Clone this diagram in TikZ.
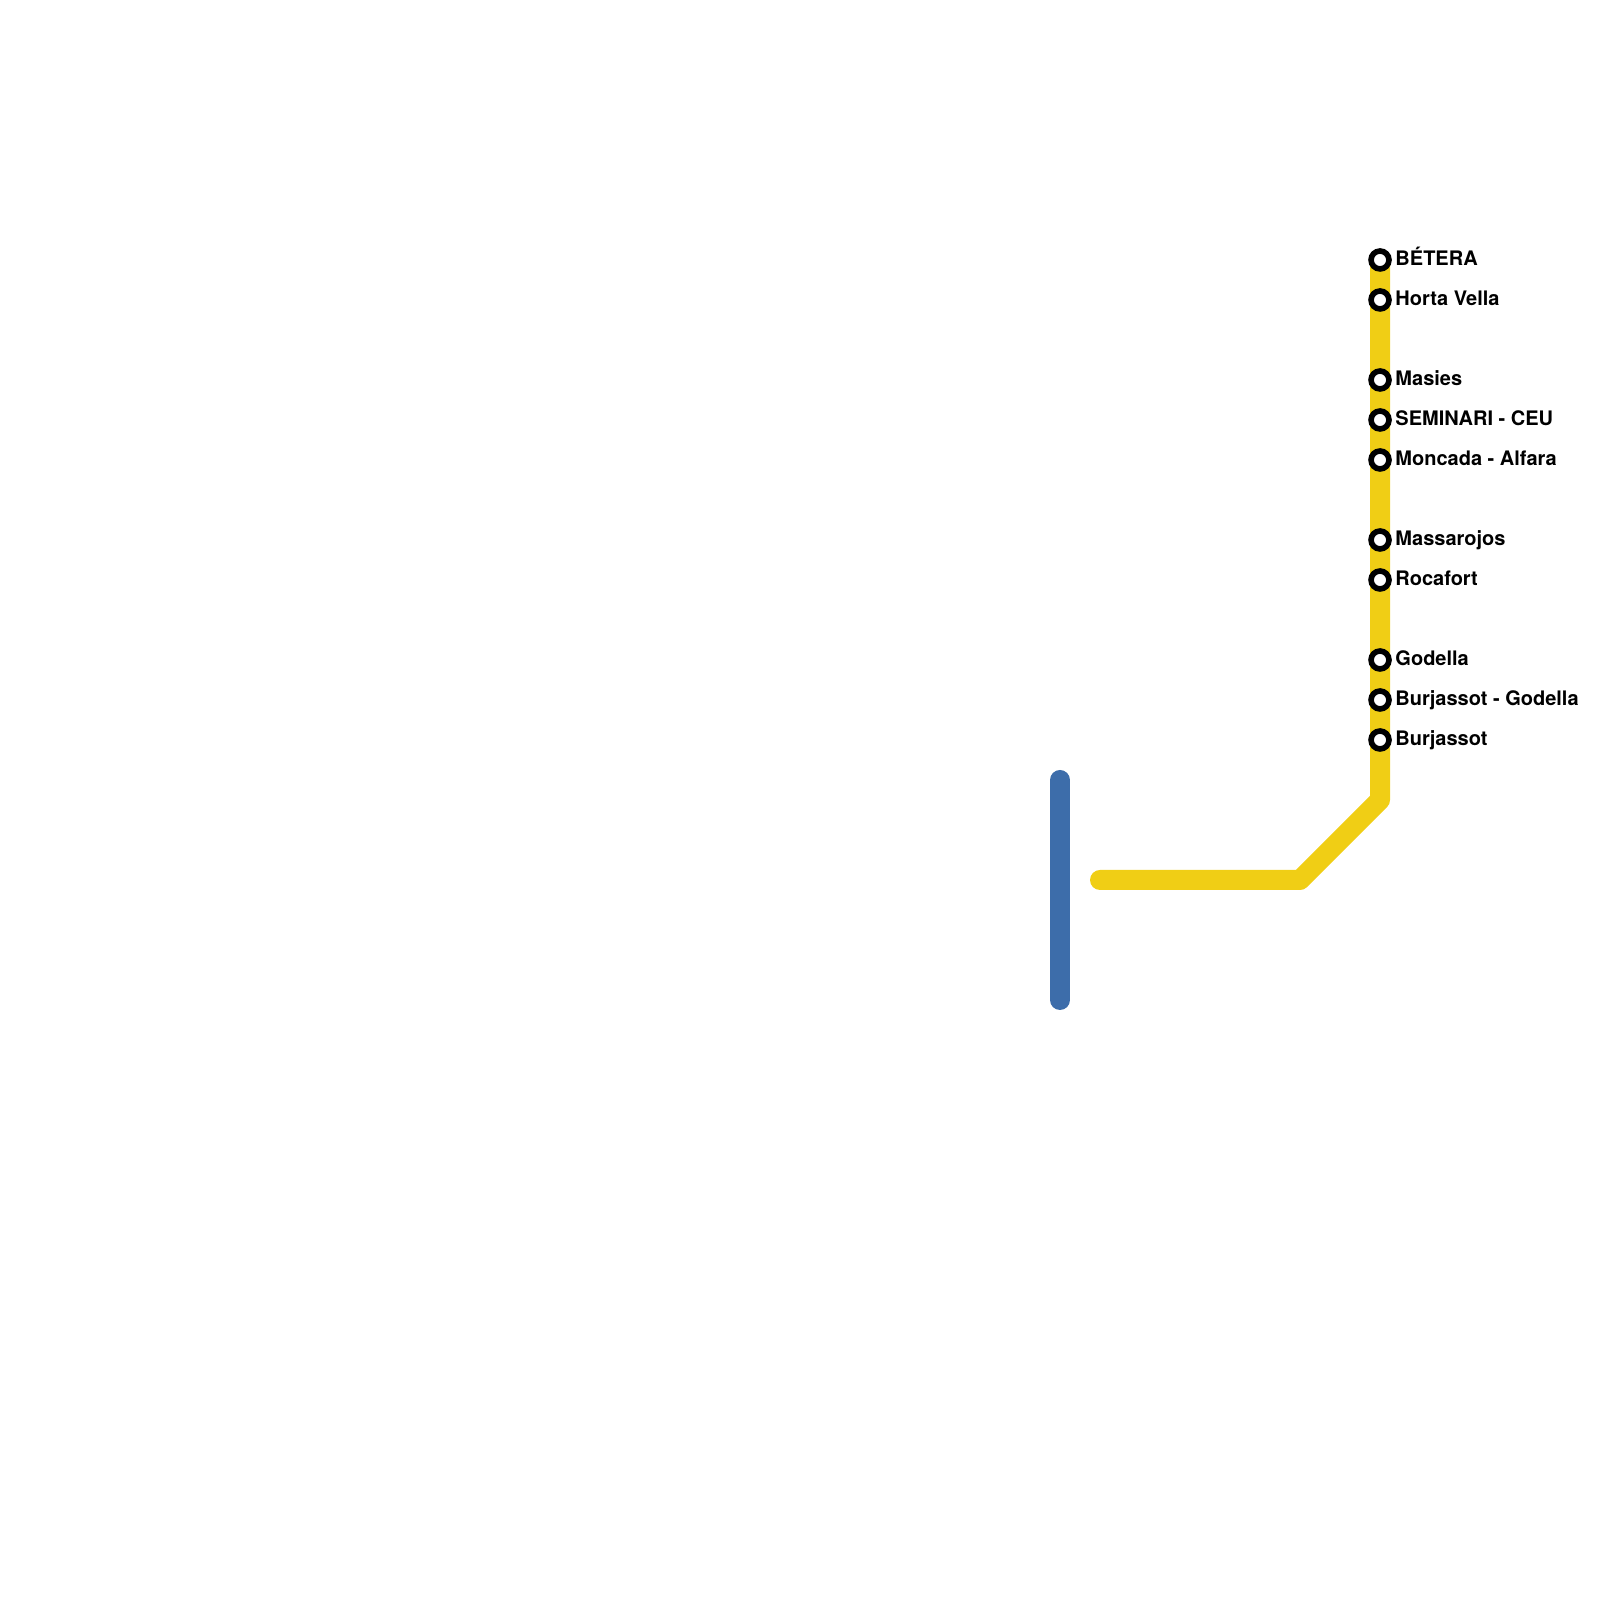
\documentclass[tikz,border=0pt]{standalone}
\usepackage{fontspec}
\setmainfont{TeX Gyre Heros}
\usepackage[svgnames]{xcolor}
\definecolor{linegold}{HTML}{F0CE15}
\definecolor{lineblue}{HTML}{3D6DAA}

\begin{document}
\begin{tikzpicture}
		\tikzset{
			label distance = 0.85pt,
			route/.style = {line width = 5.69pt,line cap = round,line join = round},
			station/.style = {circle,draw = black,fill = white,line width = 1.6pt,minimum size = 5.1pt,inner sep = 0pt},
			every label/.style = {inner sep = 0pt,text height = 4.5pt,text depth = 1.6pt,font = \bfseries\fontsize{5.69}{7}\selectfont}
		}
		\useasboundingbox (0,0) rectangle (16,16);
		\coordinate (BlueTop) at (10.6,8.2);
		\coordinate (BlueEnd) at (10.6,6.0);
		\coordinate (GoldEnd) at (11,7.2);
		\coordinate (GoldBend) at (13,7.2);
		\coordinate (GoldRise) at (13.8,8);
		\coordinate (GoldTop) at (13.8,13.4);
		\draw [route,lineblue] (BlueTop) to (BlueEnd);
		\draw [route,linegold] (GoldEnd) -- (GoldBend) -- (GoldRise) -- (GoldTop);
		\node[station,label = east:{BÉTERA}] (BE) at (13.8,13.4){};
		\node[station,label = east:{Horta Vella}] (HV) at (13.8,13){};
		\node[station,label = east:{Masies}] (MA) at (13.8,12.2){};
		\node[station,label = east:{SEMINARI - CEU}] (SE) at (13.8,11.8){};
		\node[station,label = east:{Moncada - Alfara}] (MO) at (13.8,11.4){};
		\node[station,label = east:{Massarojos}] (MS) at (13.8,10.6){};
		\node[station,label = east:{Rocafort}] (RO) at (13.8,10.2){};
		\node[station,label = east:{Godella}] (GO) at (13.8,9.4){};
		\node[station,label = east:{Burjassot - Godella}] (BG) at (13.8,9){};
		\node[station,label = east:{Burjassot}] (BU) at (13.8,8.6){};
	\end{tikzpicture}
\end{document}
